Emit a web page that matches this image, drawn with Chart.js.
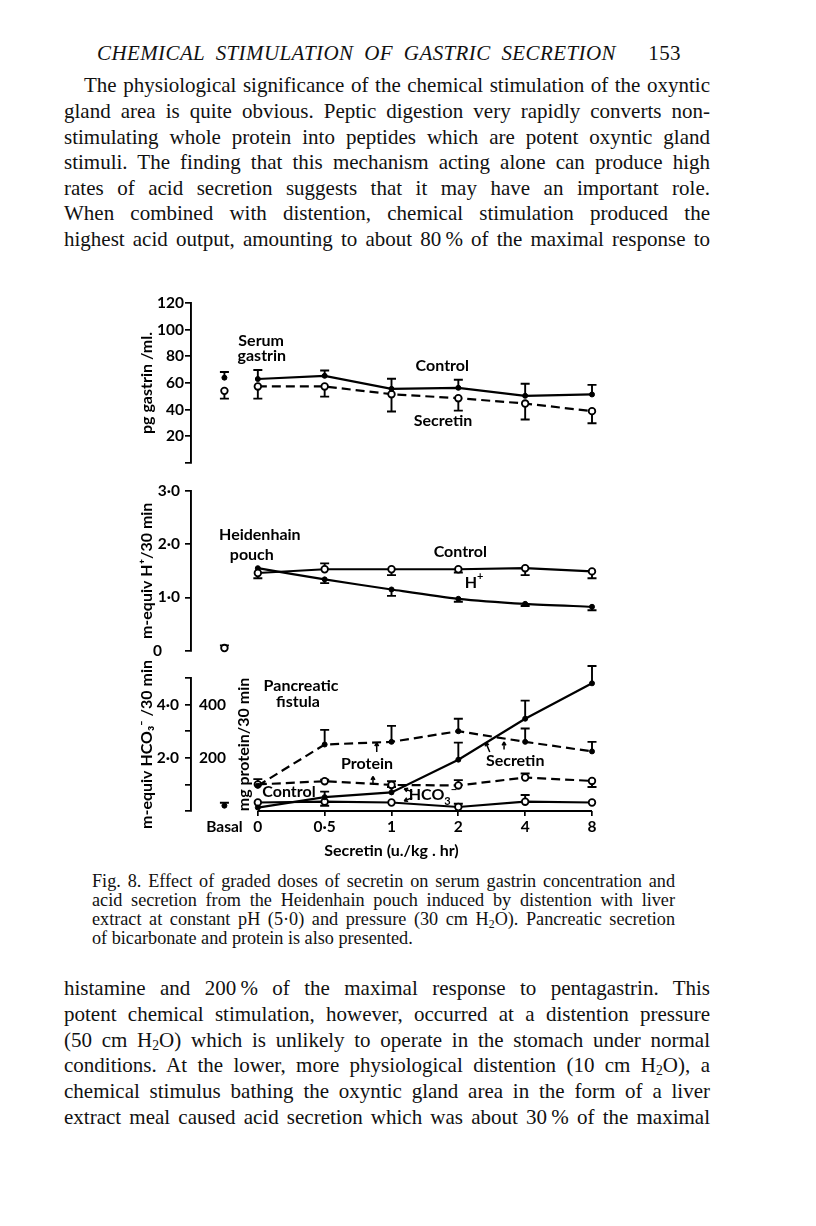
<!DOCTYPE html>
<html>
<head>
<meta charset="utf-8">
<script src="https://cdn.jsdelivr.net/npm/chart.js@4.4.0/dist/chart.umd.min.js"></script>
<style>
  html, body { margin: 0; padding: 0; background: #fff; }
  body { width: 816px; height: 1226px; position: relative; overflow: hidden; color: #111; font-family: "Liberation Serif", "DejaVu Serif", serif; }
  .ln { position: absolute; left: 64px; width: 646px; font-size: 21px; line-height: 26px; height: 26px; white-space: nowrap; text-align: justify; text-align-last: justify; }
  .ind { left: 84px; width: 626px; }
  .hdr { position: absolute; left: 97px; top: 40px; width: 584px; font-size: 21px; line-height: 26px; font-style: italic; white-space: nowrap; text-align: justify; text-align-last: justify; letter-spacing: 0.4px; }
  .cap { position: absolute; left: 92px; width: 583px; font-size: 18.2px; line-height: 19px; height: 19px; white-space: nowrap; text-align: justify; text-align-last: justify; }
  .cap.last { text-align-last: left; }
  sub { font-size: 0.65em; vertical-align: -0.25em; line-height: 0; }
  .panel { position: absolute; left: 100px; width: 520px; }
</style>
</head>
<body>
<div class="hdr">CHEMICAL STIMULATION OF GASTRIC SECRETION &nbsp; <span style="font-style:normal">153</span></div>

<div class="ln ind" style="top:72px">The physiological significance of the chemical stimulation of the oxyntic</div>
<div class="ln" style="top:98px">gland area is quite obvious. Peptic digestion very rapidly converts non-</div>
<div class="ln" style="top:124px">stimulating whole protein into peptides which are potent oxyntic gland</div>
<div class="ln" style="top:149px">stimuli. The finding that this mechanism acting alone can produce high</div>
<div class="ln" style="top:175px">rates of acid secretion suggests that it may have an important role.</div>
<div class="ln" style="top:200px">When combined with distention, chemical stimulation produced the</div>
<div class="ln" style="top:226px">highest acid output, amounting to about 80&#8201;% of the maximal response to</div>

<div class="panel" style="top:280px;height:200px"><canvas id="c1"></canvas></div>
<div class="panel" style="top:475px;height:190px"><canvas id="c2"></canvas></div>
<div class="panel" style="top:655px;height:215px"><canvas id="c3"></canvas></div>

<div class="cap" style="top:872px">Fig. 8. Effect of graded doses of secretin on serum gastrin concentration and</div>
<div class="cap" style="top:891px">acid secretion from the Heidenhain pouch induced by distention with liver</div>
<div class="cap" style="top:910px">extract at constant pH (5·0) and pressure (30 cm H<sub>2</sub>O). Pancreatic secretion</div>
<div class="cap last" style="top:929px">of bicarbonate and protein is also presented.</div>

<div class="ln" style="top:975px">histamine and 200&#8201;% of the maximal response to pentagastrin. This</div>
<div class="ln" style="top:1001px">potent chemical stimulation, however, occurred at a distention pressure</div>
<div class="ln" style="top:1027px">(50 cm H<sub>2</sub>O) which is unlikely to operate in the stomach under normal</div>
<div class="ln" style="top:1052px">conditions. At the lower, more physiological distention (10 cm H<sub>2</sub>O), a</div>
<div class="ln" style="top:1078px">chemical stimulus bathing the oxyntic gland area in the form of a liver</div>
<div class="ln" style="top:1104px">extract meal caused acid secretion which was about 30&#8201;% of the maximal</div>

<script>
// ---------------- DATA ----------------
const doses = ['0', '0·5', '1', '2', '4', '8'];
const xTickLabels = ['Basal', '0', '0·5', '1', '2', '4', '8'];

// Serum gastrin (pg/ml)
const gastrinControl      = [63.0, 65.4, 55.6, 56.4, 50.4, 51.4];
const gastrinControlErr   = [69.7, 69.4, 63.2, 62.4, 59.4, 58.6];
const gastrinSecretin     = [57.4, 57.4, 51.6, 48.6, 44.6, 38.9];
const gastrinSecretinErr  = [48.3, 49.8, 38.6, 39.3, 32.6, 29.8];
const gastrinBasal        = [64.0, 54.1];   // control, secretin
const gastrinBasalErr     = [68.2, 48.3];

// Heidenhain pouch H+ (m-equiv/30 min)
const hControl      = [1.46, 1.53, 1.53, 1.53, 1.55, 1.49];
const hControlErr   = [1.36, 1.64, 1.42, 1.47, 1.42, 1.36];
const hSecretin     = [1.55, 1.34, 1.15, 0.975, 0.88, 0.825];
const hSecretinErr  = [1.55, 1.27, 1.03, 0.92, 0.84, 0.76];
const hBasal        = [0.05, 0.04];
const hBasalErr     = [0.10, 0.04];

// Pancreatic fistula: protein (mg/30 min) and HCO3- (m-equiv/30 min)
const proteinSecretin    = [95, 250, 260, 300, 260, 224];
const proteinSecretinErr = [95, 305, 320, 347, 310, 260];
const proteinControl     = [100, 112, 98, 96, 126, 113];
const proteinControlErr  = [120, 118, 112, 116, 141, 90];
const hco3Secretin       = [0.13, 0.52, 0.70, 1.93, 3.47, 4.80];
const hco3SecretinErr    = [0.13, 0.73, 0.90, 2.57, 4.15, 5.45];
const hco3Control        = [0.32, 0.35, 0.32, 0.15, 0.35, 0.32];
const hco3ControlErr     = [0.32, 0.20, 0.32, 0.27, 0.60, 0.32];
const hco3Basal          = [0.20];
const hco3BasalErr       = [0.31];

const gastrinTicks = [0, 20, 40, 60, 80, 100, 120];
const hTicks = [0, 1, 2, 3];
const hco3Ticks = [0, 1, 2, 3, 4, 5];
const hco3Labelled = [2, 4];
const proteinLabelled = [200, 400];

// ---------------- HELPERS ----------------
const BASAL_X = -0.5;
const FONT = 'Lato, "Open Sans", sans-serif';
const TICK_SIZE = 15.5, NOTE_SIZE = 16, TITLE_SIZE = 16;
const pts = arr => arr.map((v, i) => ({ x: i, y: v }));
const basal = (v) => [{ x: BASAL_X, y: v }];
const dec = v => (v === 0 ? '0\u2007\u2007' : v.toFixed(1).replace('.', '·'));

const lineBase = { borderColor: '#000', borderWidth: 2.2, tension: 0, clip: false, pointBorderColor: '#000', pointHoverRadius: 0 };
const dotStyle = { pointRadius: 2.5, pointBackgroundColor: '#000', pointBorderWidth: 1 };
const openStyle = { pointRadius: 3.3, pointBackgroundColor: '#fff', pointBorderWidth: 1.8 };
const dashed = { borderDash: [9, 5] };

Chart.defaults.font.family = FONT;
Chart.defaults.color = '#000';
Chart.defaults.animation = false;

const errorBars = {
  id: 'errorBars',
  beforeDatasetsDraw(chart) {
    const { ctx } = chart;
    chart.data.datasets.forEach((ds, di) => {
      if (!ds.errTo) return;
      const meta = chart.getDatasetMeta(di);
      const ys = chart.scales[ds.yAxisID || 'y'];
      ctx.save();
      ctx.strokeStyle = '#000';
      ctx.lineWidth = 1.9;
      meta.data.forEach((pt, i) => {
        const e = ds.errTo[i];
        if (e == null) return;
        const y2 = ys.getPixelForValue(e);
        if (Math.abs(y2 - pt.y) < 1.5) return;
        ctx.beginPath();
        ctx.moveTo(pt.x, pt.y); ctx.lineTo(pt.x, y2);
        ctx.moveTo(pt.x - 4.5, y2); ctx.lineTo(pt.x + 4.5, y2);
        ctx.stroke();
      });
      ctx.restore();
    });
  }
};

function drawRich(ctx, parts, cx, cy, size) {
  const big = '700 ' + size + 'px ' + FONT, small = '700 ' + Math.round(size * 0.68) + 'px ' + FONT;
  let w = 0;
  parts.forEach(p => { ctx.font = p.sub || p.sup ? small : big; p.w = ctx.measureText(p.s).width; w += p.w; });
  let x = cx - w / 2;
  ctx.textAlign = 'left';
  parts.forEach(p => {
    ctx.font = p.sub || p.sup ? small : big;
    const dy = p.sub ? size * 0.38 : p.sup ? -size * 0.38 : 0;
    ctx.fillText(p.s, x, cy + dy);
    x += p.w;
  });
}

function notes(texts, arrows) {
  return {
    id: 'notes',
    afterDatasetsDraw(chart) {
      const { ctx, scales } = chart;
      const xs = scales.x, ys = scales.y;
      ctx.save();
      ctx.fillStyle = '#000';
      ctx.textBaseline = 'middle';
      texts.forEach(t => {
        const parts = t.parts || [{ s: t.text }];
        drawRich(ctx, parts, xs.getPixelForValue(t.x), ys.getPixelForValue(t.y), NOTE_SIZE);
      });
      ctx.strokeStyle = '#000';
      ctx.lineWidth = 1.5;
      (arrows || []).forEach(a => {
        const x1 = xs.getPixelForValue(a.x1), y1 = ys.getPixelForValue(a.y1);
        const x2 = xs.getPixelForValue(a.x2), y2 = ys.getPixelForValue(a.y2);
        const ang = Math.atan2(y2 - y1, x2 - x1);
        ctx.beginPath();
        ctx.moveTo(x1, y1); ctx.lineTo(x2, y2);
        ctx.moveTo(x2, y2); ctx.lineTo(x2 - 4 * Math.cos(ang - 0.5), y2 - 4 * Math.sin(ang - 0.5));
        ctx.moveTo(x2, y2); ctx.lineTo(x2 - 4 * Math.cos(ang + 0.5), y2 - 4 * Math.sin(ang + 0.5));
        ctx.stroke();
      });
      ctx.restore();
    }
  };
}

const baseline = {
  id: 'baseline',
  afterDraw(chart) {
    const { ctx } = chart, xs = chart.scales.x;
    const y = chart.chartArea.bottom;
    ctx.save();
    ctx.strokeStyle = '#000'; ctx.lineWidth = 1.9;
    ctx.beginPath();
    ctx.moveTo(xs.getPixelForValue(0), y); ctx.lineTo(xs.getPixelForValue(doses.length - 1), y);
    ctx.stroke();
    ctx.restore();
  }
};

function hiddenX() {
  return { type: 'linear', min: -1, max: doses.length - 1, display: false };
}

function yAxis(opts) {
  return {
    type: 'linear', position: 'left', min: opts.min, max: opts.max, weight: opts.weight || 0,
    afterFit: s => { s.width = opts.width; },
    afterBuildTicks: s => { s.ticks = opts.ticks.map(v => ({ value: v })); },
    border: { display: opts.border !== false, color: '#000', width: 1.9 },
    grid: { display: opts.grid !== false, drawOnChartArea: false, drawTicks: true, tickLength: 6, color: '#000', lineWidth: 1.7 },
    ticks: { autoSkip: false, padding: opts.tickPad, mirror: !!opts.mirror, color: '#000', font: { size: TICK_SIZE, weight: '700' }, callback: opts.label },
    title: { display: true, text: opts.title, color: '#000', font: { size: TITLE_SIZE, weight: '700' }, padding: { top: opts.titlePad, bottom: 0 } }
  };
}

const common = {
  responsive: true, maintainAspectRatio: false, animation: false,
  plugins: { legend: { display: false }, tooltip: { enabled: false } },
  events: []
};

// ---------------- PANEL 1: serum gastrin ----------------
new Chart(document.getElementById('c1'), {
  type: 'line',
  data: {
    datasets: [
      { ...lineBase, ...dotStyle, data: pts(gastrinControl), errTo: gastrinControlErr },
      { ...lineBase, ...openStyle, ...dashed, data: pts(gastrinSecretin), errTo: gastrinSecretinErr },
      { ...lineBase, ...dotStyle, showLine: false, data: basal(gastrinBasal[0]), errTo: [gastrinBasalErr[0]] },
      { ...lineBase, ...openStyle, showLine: false, data: basal(gastrinBasal[1]), errTo: [gastrinBasalErr[1]] }
    ]
  },
  options: {
    ...common,
    layout: { padding: { top: 23, bottom: 17, left: 0, right: 28 } },
    scales: {
      x: hiddenX(),
      y: yAxis({ min: 0, max: 120, width: 91, ticks: gastrinTicks, tickPad: 1, titlePad: 37,
                 label: v => (v === 0 ? '' : String(v)), title: 'pg gastrin /ml.' })
    }
  },
  plugins: [errorBars, notes([
    { text: 'Serum', x: 0.05, y: 91.5 },
    { text: 'gastrin', x: 0.06, y: 80.3 },
    { text: 'Control', x: 2.76, y: 72.7 },
    { text: 'Secretin', x: 2.77, y: 31.5 }
  ])]
});

// ---------------- PANEL 2: Heidenhain pouch ----------------
new Chart(document.getElementById('c2'), {
  type: 'line',
  data: {
    datasets: [
      { ...lineBase, ...openStyle, data: pts(hControl), errTo: hControlErr },
      { ...lineBase, ...dotStyle, tension: 0.25, data: pts(hSecretin), errTo: hSecretinErr },
      { ...lineBase, ...openStyle, showLine: false, data: basal(hBasal[0]), errTo: [hBasalErr[0]] },
      { ...lineBase, ...dotStyle, showLine: false, data: basal(hBasal[1]), errTo: [hBasalErr[1]] }
    ]
  },
  options: {
    ...common,
    layout: { padding: { top: 16, bottom: 14, left: 0, right: 28 } },
    scales: {
      x: hiddenX(),
      y: yAxis({ min: 0, max: 3, width: 91, ticks: hTicks, tickPad: 5, titlePad: 37,
                 label: v => dec(v), title: 'm-equiv H⁺/30 min' })
    }
  },
  plugins: [errorBars, notes([
    { text: 'Heidenhain', x: 0.03, y: 2.175 },
    { text: 'pouch', x: -0.09, y: 1.80 },
    { text: 'Control', x: 3.03, y: 1.856 },
    { parts: [{ s: 'H' }, { s: '+', sup: true }], x: 3.235, y: 1.28 }
  ])]
});

// ---------------- PANEL 3: pancreatic fistula ----------------
new Chart(document.getElementById('c3'), {
  type: 'line',
  data: {
    datasets: [
      { ...lineBase, ...dotStyle, ...dashed, yAxisID: 'yp', data: pts(proteinSecretin), errTo: proteinSecretinErr },
      { ...lineBase, ...openStyle, ...dashed, yAxisID: 'yp', data: pts(proteinControl), errTo: proteinControlErr },
      { ...lineBase, ...dotStyle, data: pts(hco3Secretin), errTo: hco3SecretinErr },
      { ...lineBase, ...openStyle, data: pts(hco3Control), errTo: hco3ControlErr },
      { ...lineBase, ...dotStyle, showLine: false, data: basal(hco3Basal[0]), errTo: [hco3BasalErr[0]] }
    ]
  },
  options: {
    ...common,
    layout: { padding: { top: 23, bottom: 0, left: 0, right: 28 } },
    scales: {
      x: {
        type: 'linear', min: -1, max: doses.length - 1, position: 'bottom',
        afterFit: s => { s.height = 59; },
        afterBuildTicks: s => { s.ticks = [BASAL_X].concat(doses.map((d, i) => i)).map(v => ({ value: v })); },
        border: { display: false },
        grid: { drawOnChartArea: false, drawTicks: true, tickLength: 5, lineWidth: 1.7,
                color: c => (c.tick && c.tick.value === BASAL_X ? 'rgba(0,0,0,0)' : '#000') },
        ticks: { autoSkip: false, maxRotation: 0, padding: 2, color: '#000', font: { size: TICK_SIZE, weight: '700' },
                 callback: (v, i) => xTickLabels[i] },
        title: { display: true, text: 'Secretin (u./kg . hr)', color: '#000', font: { size: TITLE_SIZE, weight: '700' }, padding: { top: 0, bottom: 10 } }
      },
      y: yAxis({ min: 0, max: 5, width: 91, weight: 2, ticks: hco3Ticks, tickPad: 6, titlePad: 37,
                 label: v => (hco3Labelled.includes(v) ? dec(v) : ''), title: 'm-equiv HCO₃⁻ /30 min' }),
      yp: yAxis({ min: 0, max: 500, width: 0, weight: 1, ticks: [0, 100, 200, 300, 400, 500], tickPad: 8, titlePad: 43,
                  mirror: true, border: false, grid: false,
                  label: v => (proteinLabelled.includes(v) ? String(v) : ''), title: 'mg protein/30 min' })
    }
  },
  plugins: [errorBars, baseline, notes([
    { text: 'Pancreatic', x: 0.646, y: 4.70 },
    { text: 'fistula', x: 0.60, y: 4.10 },
    { text: 'Protein', x: 1.634, y: 1.77 },
    { text: 'Secretin', x: 3.85, y: 1.88 },
    { text: 'Control', x: 0.466, y: 0.714 },
    { parts: [{ s: 'HCO' }, { s: '3', sub: true }, { s: '−', sup: true }], x: 2.62, y: 0.60 }
  ], [
    { x1: 1.779, y1: 2.22, x2: 1.779, y2: 2.57 },
    { x1: 1.723, y1: 1.02, x2: 1.723, y2: 1.30 },
    { x1: 3.47, y1: 2.22, x2: 3.41, y2: 2.58 },
    { x1: 3.684, y1: 2.31, x2: 3.684, y2: 2.60 },
    { x1: 2.31, y1: 0.72, x2: 2.19, y2: 0.84 },
    { x1: 2.31, y1: 0.50, x2: 2.19, y2: 0.38 }
  ])]
});
</script>
</body>
</html>
